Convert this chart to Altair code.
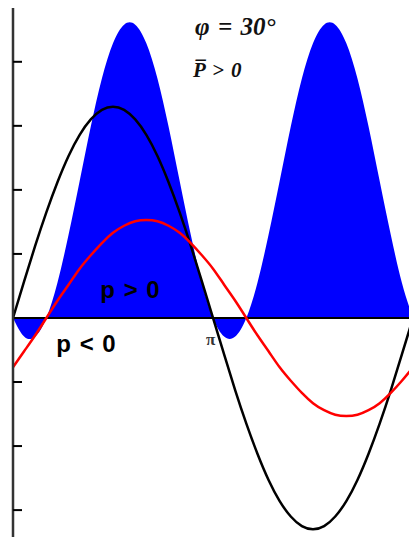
import altair as alt
import pandas as pd

# Phase angle in degrees, sampled every 10 degrees over one period
theta_deg = [0, 10, 20, 30, 40, 50, 60, 70, 80, 90, 100, 110, 120, 130, 140, 150, 160, 170,
             180, 190, 200, 210, 220, 230, 240, 250, 260, 270, 280, 290, 300, 310, 320, 330,
             340, 350, 360]

# Voltage u(t)
voltage = [0, 0.57, 1.13, 1.65, 2.12, 2.53, 2.86, 3.10, 3.25, 3.30, 3.25, 3.10, 2.86, 2.53,
           2.12, 1.65, 1.13, 0.57, 0, -0.57, -1.13, -1.65, -2.12, -2.53, -2.86, -3.10, -3.25,
           -3.30, -3.25, -3.10, -2.86, -2.53, -2.12, -1.65, -1.13, -0.57, 0]

# Current i(t), lagging by 30 degrees
current = [-0.77, -0.52, -0.27, 0, 0.27, 0.52, 0.77, 0.98, 1.17, 1.33, 1.44, 1.51, 1.53, 1.51,
           1.44, 1.33, 1.17, 0.98, 0.77, 0.52, 0.27, 0, -0.27, -0.52, -0.77, -0.98, -1.17,
           -1.33, -1.44, -1.51, -1.53, -1.51, -1.44, -1.33, -1.17, -0.98, -0.77]

# Instantaneous power p(t) = u(t) * i(t)
power = [0, -0.29, -0.29, 0, 0.55, 1.30, 2.14, 2.99, 3.74, 4.29, 4.58, 4.58, 4.29, 3.74, 2.99,
         2.14, 1.30, 0.55, 0, -0.29, -0.29, 0, 0.55, 1.30, 2.14, 2.99, 3.74, 4.29, 4.58, 4.58,
         4.29, 3.74, 2.99, 2.14, 1.30, 0.55, 0]

tick_values = [-3, -2, -1, 1, 2, 3, 4]

W, H = 396, 529
x_scale = alt.Scale(domain=[0, 356.4], nice=False, zero=False)
y_scale = alt.Scale(domain=[-3.42, 4.84], nice=False, zero=False)

df = pd.DataFrame({"theta": theta_deg, "u": voltage, "i": current, "p": power})
X = alt.X("theta:Q", scale=x_scale, axis=None)

base = alt.Chart(df)

power_area = base.mark_area(color="#0000ff", interpolate="natural", clip=True).encode(
    x=X,
    y=alt.Y("p:Q", scale=y_scale, axis=None),
    y2=alt.datum(0),
)

zero_line = alt.Chart(pd.DataFrame({"y": [0]})).mark_rule(color="black", strokeWidth=2).encode(
    y=alt.Y("y:Q", scale=y_scale, axis=None),
    x=alt.value(0),
    x2=alt.value(W),
)

u_line = base.mark_line(color="black", strokeWidth=2.5, interpolate="natural", clip=True).encode(
    x=X, y=alt.Y("u:Q", scale=y_scale, axis=None)
)
i_line = base.mark_line(color="#ff0000", strokeWidth=2.5, interpolate="natural", clip=True).encode(
    x=X, y=alt.Y("i:Q", scale=y_scale, axis=None)
)

# Vertical axis: spine and inward ticks
spine = alt.Chart(pd.DataFrame({"a": [0]})).mark_rule(color="#333333", strokeWidth=2.5).encode(
    x=alt.value(0), y=alt.value(0), y2=alt.value(H)
)
ticks = alt.Chart(pd.DataFrame({"t": tick_values})).mark_rule(color="black", strokeWidth=2).encode(
    y=alt.Y("t:Q", scale=y_scale, axis=None),
    x=alt.value(0),
    x2=alt.value(9),
)

SP = " \u200a"  # space plus hair space, for slightly looser label spacing

bold_labels = alt.Chart(pd.DataFrame({
    "theta": [105.3, 65.7],
    "y": [0.42, -0.42],
    "label": [f"p{SP}>{SP}0", f"p{SP}<{SP}0"],
})).mark_text(font="Liberation Sans", fontSize=24, fontWeight="bold", color="black",
              align="center", baseline="middle").encode(
    x=alt.X("theta:Q", scale=x_scale, axis=None),
    y=alt.Y("y:Q", scale=y_scale, axis=None),
    text="label:N",
)

pi_label = alt.Chart(pd.DataFrame({"theta": [178], "y": [-0.34], "label": ["π"]})).mark_text(
    font="Liberation Serif", fontSize=17, fontWeight="bold", color="#333333",
    align="center", baseline="middle"
).encode(
    x=alt.X("theta:Q", scale=x_scale, axis=None),
    y=alt.Y("y:Q", scale=y_scale, axis=None),
    text="label:N",
)

phi_label = alt.Chart(pd.DataFrame({"theta": [163.8], "y": [4.42],
                                    "label": [f"φ{SP}={SP}30°"]})).mark_text(
    font="Liberation Serif", fontSize=25, fontStyle="italic", fontWeight="bold", color="#111111",
    align="left", baseline="alphabetic"
).encode(
    x=alt.X("theta:Q", scale=x_scale, axis=None),
    y=alt.Y("y:Q", scale=y_scale, axis=None),
    text="label:N",
)

pbar_label = alt.Chart(pd.DataFrame({"theta": [162], "y": [3.77],
                                     "label": [f"P\u0305{SP}>{SP}0"]})).mark_text(
    font="Liberation Serif", fontSize=21, fontStyle="italic", fontWeight="bold", color="#111111",
    align="left", baseline="alphabetic"
).encode(
    x=alt.X("theta:Q", scale=x_scale, axis=None),
    y=alt.Y("y:Q", scale=y_scale, axis=None),
    text="label:N",
)

chart = alt.layer(
    power_area, zero_line, u_line, i_line, spine, ticks,
    bold_labels, pi_label, phi_label, pbar_label,
).properties(
    width=W,
    height=H,
    padding={"left": 13, "top": 8, "right": 0, "bottom": 0},
    autosize=alt.AutoSizeParams(type="none"),
    background="white",
).configure_view(stroke=None)

chart.save("out.html", embed_options={"renderer": "svg", "actions": False})
